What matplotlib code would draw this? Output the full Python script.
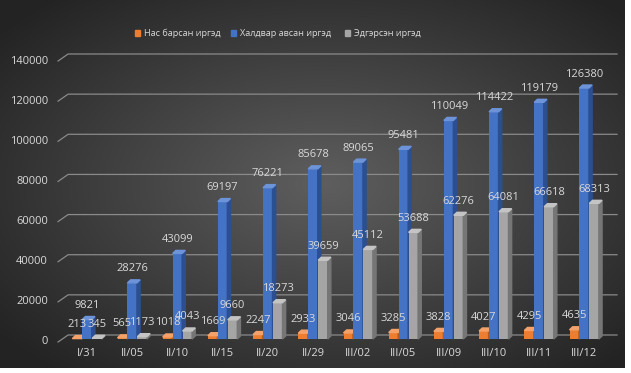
import numpy as np
import matplotlib.pyplot as plt
from matplotlib.patches import Polygon

plt.rcParams['font.family'] = ['Open Sans', 'DejaVu Sans']

dates = ['I/31', 'II/05', 'II/10', 'II/15', 'II/20', 'II/29', 'III/02',
         'III/05', 'III/09', 'III/10', 'III/11', 'III/12']
deaths = [213, 565, 1018, 1669, 2247, 2933, 3046, 3285, 3828, 4027, 4295, 4635]
infected = [9821, 28276, 43099, 69197, 76221, 85678, 89065, 95481,
            110049, 114422, 119179, 126380]
recovered = [345, 1173, 4043, 9660, 18273, 39659, 45112, 53688,
             62276, 64081, 66618, 68313]
series_names = ['Нас барсан иргэд', 'Халдвар авсан иргэд', 'Эдгэрсэн иргэд']

colors = ['#ED7D31', '#4472C4', '#A5A5A5']
sides = ['#B35A1E', '#2C4F91', '#767676']
tops = ['#F5A26A', '#6D93D8', '#C4C4C4']
txt = '#D9D9D9'

W, H = 631, 373
fig = plt.figure(figsize=(W / 100, H / 100), dpi=100)
fig.patch.set_facecolor('white')

# dark radial background
bg = fig.add_axes([0, 5 / H, 625 / W, 1 - 5 / H])
yy, xx = np.mgrid[0:1:200j, 0:1:300j]
r = np.sqrt(((xx - 0.52) / 0.75) ** 2 + ((yy - 0.5) / 0.75) ** 2)
shade = np.clip(0.37 - 0.26 * r, 0.14, 0.37)
bg.imshow(np.dstack([shade] * 3), aspect='auto', extent=[0, 1, 0, 1])
bg.axis('off')

# axes mapped to pixel geometry
x0, x1 = 50, 615
ytop, ybot = 40, 345
rect = [x0 / W, 1 - ybot / H, (x1 - x0) / W, (ybot - ytop) / H]
ppx = 45.2            # pixels per category
xlim = ((x0 - 87) / ppx, (x1 - 87) / ppx)

# back wall (gridlines, value axis)
ax = fig.add_axes(rect)
ax.patch.set_alpha(0)
ppv = 281 / 140000
ax.set_xlim(*xlim)
ax.set_ylim(-(ybot - 335) / ppv, (335 - ytop) / ppv)
ax.axis('off')

dyv = 7 / ppv
dxc = 10 / ppx
gl = (617 - 87) / ppx
for v in range(0, 140001, 20000):
    ax.plot([-0.64, -0.64 + dxc, gl], [v - dyv, v, v], color='#8A8A8A', lw=0.9,
            clip_on=False, zorder=1)
    ax.text((48 - 87) / ppx, v - dyv, str(v), color=txt, fontsize=8,
            ha='right', va='center', clip_on=False)

# front plane (bars)
bx = fig.add_axes(rect)
bx.patch.set_alpha(0)
pv2 = 0.001986
bx.set_xlim(*xlim)
bx.set_ylim(-(ybot - 339) / pv2, (339 - ytop) / pv2)
bx.axis('off')

x = np.arange(len(dates))
w = 0.21
offs = [-0.22, 0.0, 0.22]
ddx, ddy = 0.07, 3 / pv2
for k, vals in enumerate([deaths, infected, recovered]):
    xs = x + offs[k]
    bx.bar(xs, vals, width=w, color=colors[k], zorder=3 + k * 0.1)
    for xc, h in zip(xs, vals):
        side = [(xc + w / 2, 0), (xc + w / 2 + ddx, ddy),
                (xc + w / 2 + ddx, h + ddy), (xc + w / 2, h)]
        top = [(xc - w / 2, h), (xc - w / 2 + ddx, h + ddy),
               (xc + w / 2 + ddx, h + ddy), (xc + w / 2, h)]
        bx.add_patch(Polygon(side, closed=True, color=sides[k], zorder=3 + k * 0.1))
        bx.add_patch(Polygon(top, closed=True, color=tops[k], zorder=3 + k * 0.1))
        bx.text(xc, h + 14 / pv2, str(h), color=txt, fontsize=8,
                ha='center', va='center', zorder=6)

for i, d in enumerate(dates):
    bx.text(i, -(353 - 339) / pv2, d, color=txt, fontsize=8,
            ha='center', va='center', clip_on=False)

# legend
lx = [135, 231, 345]
for k, name in enumerate(series_names):
    fig.patches.append(plt.Rectangle((lx[k] / W, 1 - 36 / H), 5 / W, 6 / H,
                                     color=colors[k], transform=fig.transFigure))
    fig.text((lx[k] + 9) / W, 1 - 33 / H, name, color=txt, fontsize=6.6,
             ha='left', va='center')

fig.savefig('out.png', dpi=100, facecolor=fig.get_facecolor())
